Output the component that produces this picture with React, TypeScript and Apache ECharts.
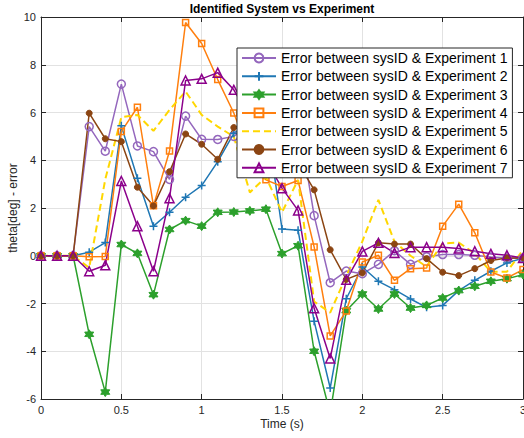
import React, { useEffect, useRef } from "react";
import * as echarts from "echarts";

const times = [0, 0.1, 0.2, 0.3, 0.4, 0.5, 0.6, 0.7, 0.8, 0.9, 1.0, 1.1, 1.2, 1.3, 1.4, 1.5, 1.6, 1.7, 1.8, 1.9, 2.0, 2.1, 2.2, 2.3, 2.4, 2.5, 2.6, 2.7, 2.8, 2.9, 3.0];

const exp1 = [0, 0, 0, 5.41, 4.38, 7.19, 4.6, 4.36, 3.2, 5.85, 4.88, 4.87, 5.0, 5.5, 5.8, 5.6, 5.8, 1.68, -1.13, -0.64, -0.75, -0.36, 0.21, -0.36, -0.04, 0.05, 0.05, 0.02, -0.05, -0.1, -0.1];
const exp2 = [0, 0, 0, 0.15, 0.55, 5.44, 3.25, 1.24, 1.82, 2.45, 2.94, 3.94, 5.13, 5.6, 5.9, 1.12, 1.07, -2.74, -5.54, -1.8, -0.47, -1.07, -1.42, -1.81, -2.16, -2.08, -1.46, -1.03, -0.65, -0.3, -0.1];
const exp3 = [0, 0, 0, -3.29, -5.71, 0.47, 0.1, -1.63, 1.1, 1.47, 1.24, 1.82, 1.83, 1.88, 1.95, 0.09, 0.42, -4.0, -6.6, -2.3, -1.6, -2.23, -1.6, -2.19, -2.08, -1.77, -1.46, -1.28, -1.07, -0.96, -0.79];
const exp4 = [0, 0, 0, -0.04, -0.03, 5.2, 6.22, 2.09, 4.39, 9.77, 8.89, 7.38, 5.98, 4.2, 3.18, 2.9, 3.15, 0.37, -3.36, -2.31, -0.26, 0.02, -1.03, -0.54, -0.51, 1.24, 2.16, 0.96, -0.68, -0.93, -0.58];
const exp5 = [0, 0, 0, -0.5, 3.2, 5.8, 5.9, 5.23, 6.11, 6.88, 5.9, 5.41, 4.99, 2.65, 3.3, 1.82, 3.18, -1.92, -2.38, -0.85, 0.6, 2.34, 0.59, 0.0, -0.46, 0.52, 0.55, 0.1, -0.67, -0.67, 0.24];
const exp6 = [0, 0, 0, 5.97, 4.9, 4.78, 2.87, 2.09, 3.52, 5.1, 4.67, 4.04, 5.37, 5.6, 5.7, 4.8, 3.9, 2.76, 0.25, -0.99, -0.72, 0.54, 0.49, 0.49, -0.12, -0.69, -0.83, -0.54, -0.2, -0.09, -0.09];
const exp7 = [0, 0, 0, -0.65, -0.4, 3.13, 1.24, -0.65, 2.41, 7.34, 7.41, 7.67, 6.95, 5.8, 4.0, 2.83, 1.9, -2.2, -4.3, -1.01, 0.18, 0.54, 0.12, 0.36, 0.36, 0.36, 0.3, 0.19, 0.08, 0.02, -0.09];

const seriesNames = [
  "Error between sysID & Experiment 1",
  "Error between sysID & Experiment 2",
  "Error between sysID & Experiment 3",
  "Error between sysID & Experiment 4",
  "Error between sysID & Experiment 5",
  "Error between sysID & Experiment 6",
  "Error between sysID & Experiment 7",
];
const seriesData = [exp1, exp2, exp3, exp4, exp5, exp6, exp7];
const colors = ["#9467bd", "#1f77b4", "#2ca02c", "#ff7f0e", "#ffd700", "#8b4513", "#8b008b"];

const PLUS = "path://M0,5L10,5M5,0L5,10";
const HEX = "path://M5,0L6.44,2.5L9.33,2.5L7.89,5L9.33,7.5L6.44,7.5L5,10L3.56,7.5L0.67,7.5L2.11,5L0.67,2.5L3.56,2.5Z";

const FONT = "Liberation Sans, Arial, Helvetica, sans-serif";
const AX = "#262626";
const NONE = "rgba(0,0,0,0)";

export default function App() {
  const ref = useRef<HTMLDivElement>(null);
  useEffect(() => {
    if (!ref.current) return;
    const chart = echarts.init(ref.current, null, { renderer: "svg" });
    const styles: any[] = [
      { symbol: "circle", symbolSize: 8, fill: NONE, bw: 1.5 },
      { symbol: PLUS, symbolSize: 8, fill: NONE, bw: 1.5 },
      { symbol: HEX, symbolSize: 9, fill: "#2ca02c", bw: 1 },
      { symbol: "rect", symbolSize: 6, fill: NONE, bw: 1.5 },
      { symbol: "none", symbolSize: 0, fill: NONE, bw: 0, dashed: true },
      { symbol: "circle", symbolSize: 6, fill: "#8b4513", bw: 1 },
      { symbol: "triangle", symbolSize: 9, fill: NONE, bw: 1.5 },
    ];
    const series = seriesData.map((d, i) => {
      const s = styles[i];
      return {
        type: "line",
        name: seriesNames[i],
        data: d.map((v, j) => [times[j], v]),
        symbol: s.symbol,
        symbolSize: s.symbolSize,
        showSymbol: s.symbol !== "none",
        showAllSymbol: true,
        clip: true,
        lineStyle: {
          color: colors[i],
          width: s.dashed ? 2 : 1.5,
          type: s.dashed ? [7, 4] : "solid",
        },
        itemStyle: {
          color: s.fill,
          borderColor: s.bw ? colors[i] : NONE,
          borderWidth: s.bw,
        },
        emphasis: { disabled: true },
      };
    });
    chart.setOption({
      animation: false,
      grid: { left: 41, right: 1, top: 17, bottom: 39, containLabel: false, outerBoundsMode: "none" },
      graphic: [
        {
          type: "text",
          x: 282,
          y: 3,
          style: {
            text: "Identified System vs Experiment",
            font: `bold 12px ${FONT}`,
            fill: "#000",
            textAlign: "center",
            textVerticalAlign: "top",
          },
        },
      ],
      legend: {
        orient: "vertical",
        left: 237,
        top: 48,
        itemWidth: 34,
        itemHeight: 11,
        itemGap: 4.3,
        padding: [3, 5, 3, 4],
        backgroundColor: "#fff",
        borderColor: AX,
        borderWidth: 1,
        borderRadius: 0,
        textStyle: { fontSize: 14, color: "#000", fontFamily: FONT },
        data: seriesNames,
      },
      xAxis: [
        {
          type: "value",
          min: 0,
          max: 3,
          interval: 0.5,
          name: "Time (s)",
          nameLocation: "middle",
          nameGap: 19,
          nameMoveOverlap: false,
          nameTextStyle: { fontSize: 12, color: AX, fontFamily: FONT },
          axisLine: { show: true, onZero: false, lineStyle: { color: AX, width: 1 } },
          axisTick: { show: true, inside: true, length: 5, lineStyle: { color: AX } },
          axisLabel: { fontSize: 11, color: AX, fontFamily: FONT, margin: 5, showMaxLabel: true },
          splitLine: { show: true, lineStyle: { color: "#e2e2e2", width: 1 } },
        },
        {
          type: "value",
          position: "top",
          min: 0,
          max: 3,
          interval: 0.5,
          axisLine: { show: true, onZero: false, lineStyle: { color: AX, width: 1 } },
          axisTick: { show: true, inside: true, length: 5, lineStyle: { color: AX } },
          axisLabel: { show: false },
          splitLine: { show: false },
        },
      ],
      yAxis: [
        {
          type: "value",
          min: -6,
          max: 10,
          interval: 2,
          name: "theta[deg] - error",
          nameLocation: "middle",
          nameGap: 22,
          nameMoveOverlap: false,
          nameTextStyle: { fontSize: 12, color: AX, fontFamily: FONT },
          axisLine: { show: true, onZero: false, lineStyle: { color: AX, width: 1 } },
          axisTick: { show: true, inside: true, length: 5, lineStyle: { color: AX } },
          axisLabel: { fontSize: 11, color: AX, fontFamily: FONT, margin: 5 },
          splitLine: { show: true, lineStyle: { color: "#e2e2e2", width: 1 } },
        },
        {
          type: "value",
          position: "right",
          min: -6,
          max: 10,
          interval: 2,
          axisLine: { show: true, onZero: false, lineStyle: { color: AX, width: 1 } },
          axisTick: { show: true, inside: true, length: 5, lineStyle: { color: AX } },
          axisLabel: { show: false },
          splitLine: { show: false },
        },
      ],
      series,
    });
    return () => chart.dispose();
  }, []);
  return (
    <div
      ref={ref}
      style={{ position: "fixed", left: 0, top: 0, width: 524, height: 438, background: "#fff" }}
    />
  );
}
